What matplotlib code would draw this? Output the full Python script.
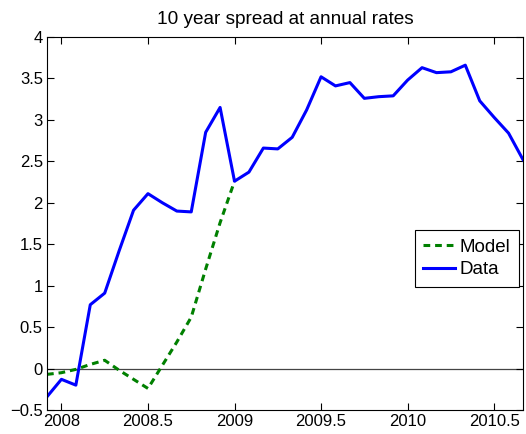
import matplotlib
matplotlib.use('Agg')
import matplotlib.pyplot as plt
import numpy as np

# monthly, Dec 2007 .. Aug 2010
data_vals = [-0.34, -0.13, -0.20, 0.77, 0.91, 1.42, 1.91, 2.11, 2.00, 1.90, 1.89,
             2.85, 3.15, 2.26, 2.37, 2.66, 2.65, 2.79, 3.12, 3.52, 3.41, 3.45,
             3.26, 3.28, 3.29, 3.48, 3.63, 3.57, 3.58, 3.66, 3.23, 3.03, 2.84, 2.52]
# model runs Dec 2007 .. Jan 2009
model_vals = [-0.07, -0.05, -0.01, 0.05, 0.10, -0.02, -0.13, -0.24, 0.04, 0.32,
              0.62, 1.20, 1.76, 2.26]

start = 2007 + 11 / 12
data_t = start + np.arange(len(data_vals)) / 12
model_t = start + np.arange(len(model_vals)) / 12

plt.rcParams['font.family'] = ['Liberation Sans', 'DejaVu Sans']
plt.rcParams['font.size'] = 12

fig = plt.figure(figsize=(5.26, 4.34), dpi=100)
ax = fig.add_axes([47 / 526, 24 / 434, 476 / 526, 373 / 434])

ax.axhline(0, color='#444444', linewidth=0.9, zorder=1)
ax.plot(model_t, model_vals, color=(0, 0.5, 0), linestyle=(0, (2.2, 1.6)),
        linewidth=2.2, label='Model')
ax.plot(data_t, data_vals, color=(0, 0, 1), linewidth=2.2, label='Data')

ax.set_xlim(data_t[0], data_t[-1])
ax.set_ylim(-0.5, 4)
ax.set_xticks([2008, 2008.5, 2009, 2009.5, 2010, 2010.5])
ax.set_xticklabels(['2008', '2008.5', '2009', '2009.5', '2010', '2010.5'])
ax.set_yticks(np.arange(-0.5, 4.01, 0.5))
ax.set_yticklabels(['\u22120.5', '0', '0.5', '1', '1.5', '2', '2.5', '3', '3.5', '4'])
ax.tick_params(direction='in', top=True, right=True, length=5, width=0.8, pad=3)
for s in ax.spines.values():
    s.set_linewidth(0.8)

ax.set_title('10 year spread at annual rates', fontsize=13.7, pad=9)
leg = ax.legend(loc='upper left', fancybox=False, framealpha=1, edgecolor='black',
                handlelength=1.7, handletextpad=0.22, borderpad=0.45, labelspacing=0.3,
                borderaxespad=0, fontsize=13.5)
leg.set_bbox_to_anchor(((415 - 47) / 476, (410 - 230) / 373), transform=ax.transAxes)
leg.get_frame().set_linewidth(0.8)

fig.savefig('out.png', dpi=100)
